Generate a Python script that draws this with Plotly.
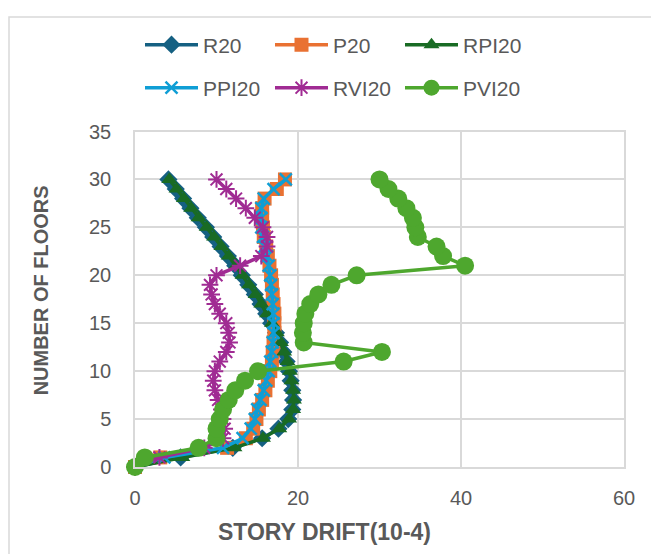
import plotly.graph_objects as go

floors = list(range(0, 31))

R20 = [0, 5.6, 12.0, 15.6, 17.6, 18.8, 19.3, 19.4, 19.3, 19.1, 18.9, 18.6, 18.2, 17.8, 17.3, 16.7,
       16.1, 15.4, 14.7, 13.9, 13.1, 12.3, 11.4, 10.5, 9.6, 8.7, 7.7, 6.8, 5.9, 5.0, 4.1]
P20 = [0, 3.1, 11.3, 13.6, 14.5, 14.9, 15.2, 15.6, 16.0, 16.3, 16.6, 16.8, 16.9, 17.0, 17.1, 17.1,
       17.1, 17.0, 16.9, 16.8, 16.7, 16.5, 16.3, 16.1, 15.8, 15.7, 15.6, 15.6, 15.9, 17.4, 18.4]
RPI20 = [0, 5.8, 12.2, 15.7, 17.7, 18.9, 19.4, 19.5, 19.4, 19.2, 19.0, 18.7, 18.3, 17.9, 17.4, 16.8,
         16.2, 15.5, 14.8, 14.0, 13.2, 12.4, 11.5, 10.6, 9.7, 8.8, 7.8, 6.9, 6.0, 5.1, 4.2]
PPI20 = [0, 3.6, 10.8, 13.2, 14.2, 14.7, 15.0, 15.4, 15.8, 16.1, 16.4, 16.6, 16.8, 16.9, 17.0, 17.0,
         17.0, 16.9, 16.8, 16.7, 16.6, 16.4, 16.2, 15.9, 15.7, 15.5, 15.5, 15.5, 15.8, 17.0, 18.5]
RVI20 = [0, 3.0, 8.5, 10.8, 11.0, 10.8, 10.6, 10.2, 9.8, 9.6, 9.8, 10.4, 11.2, 11.6, 11.5, 11.2,
         10.4, 9.8, 9.4, 9.2, 10.0, 12.9, 15.5, 16.2, 16.2, 15.7, 14.7, 13.6, 12.4, 11.2, 10.0]
PVI20 = [0, 1.2, 7.8, 10.0, 10.0, 10.4, 10.8, 11.5, 12.3, 13.5, 15.1, 25.6, 30.3, 20.7, 20.6, 20.7,
         20.9, 21.5, 22.5, 24.1, 27.2, 40.5, 37.8, 37.0, 34.7, 34.4, 34.1, 33.3, 32.3, 31.1, 30.0]

x_ticks = [0, 20, 40, 60]
y_ticks = [0, 5, 10, 15, 20, 25, 30, 35]

GRID = "#d9d9d9"
TXT = "#595959"
FONT = "Liberation Sans"

series = [
    ("R20", R20, "#156082", dict(symbol="diamond", size=14), "legend"),
    ("P20", P20, "#E97132", dict(symbol="square", size=14), "legend"),
    ("RPI20", RPI20, "#196B24", dict(symbol="triangle-up", size=14), "legend"),
    ("PPI20", PPI20, "#0F9ED5", dict(symbol="x-thin", size=12, line=dict(width=2.5, color="#0F9ED5")), "legend2"),
    ("RVI20", RVI20, "#A02B93", dict(symbol="asterisk", size=14, line=dict(width=2, color="#A02B93")), "legend2"),
    ("PVI20", PVI20, "#4EA72E", dict(symbol="circle", size=18), "legend2"),
]

fig = go.Figure()
for name, vals, color, mk, lg in series:
    marker = dict(color=color)
    marker.update(mk)
    fig.add_trace(go.Scatter(
        x=vals, y=floors, name=name, mode="lines+markers",
        line=dict(color=color, width=3.5), marker=marker,
        cliponaxis=False, legend=lg,
    ))

W, H = 651, 554
L, R, T, B = 135, 27, 127, 87
pw, ph = W - L - R, H - T - B

def px_to_paper_x(px):
    return (px - L) / pw

def px_to_paper_y(py):
    return (H - B - py) / ph

legend_common = dict(
    orientation="h", xref="container", yref="container", xanchor="left", yanchor="middle",
    font=dict(family=FONT, size=21, color=TXT), itemwidth=53, entrywidth=62,
    bgcolor="rgba(0,0,0,0)", tracegroupgap=0, itemclick=False,
)

fig.update_layout(
    width=W, height=H,
    margin=dict(l=L, r=R, t=T, b=B),
    paper_bgcolor="white", plot_bgcolor="white",
    font=dict(family=FONT, color=TXT),
    legend=dict(legend_common, x=140 / W, y=1 - 45 / H),
    legend2=dict(legend_common, x=140 / W, y=1 - 88 / H),
    xaxis=dict(range=[0, 60], tickvals=x_ticks, showgrid=True, gridcolor=GRID, gridwidth=1.5,
               zeroline=False, showline=True, linecolor=GRID, linewidth=1.5, mirror=True,
               tickfont=dict(family=FONT, size=20, color=TXT), ticks="", ticklabelstandoff=12),
    yaxis=dict(range=[0, 35], tickvals=y_ticks, showgrid=True, gridcolor=GRID, gridwidth=1.5,
               zeroline=False, showline=True, linecolor=GRID, linewidth=1.5, mirror=True,
               tickfont=dict(family=FONT, size=20, color=TXT), ticks="", ticklabelstandoff=18),
    annotations=[
        dict(text="<b>STORY DRIFT(10-4)</b>", xref="paper", yref="paper",
             x=px_to_paper_x(324), y=px_to_paper_y(533), showarrow=False,
             xanchor="center", yanchor="middle", font=dict(family=FONT, size=23, color=TXT)),
        dict(text="<b>NUMBER OF FLOORS</b>", xref="paper", yref="paper",
             x=px_to_paper_x(41), y=px_to_paper_y(288), showarrow=False, textangle=-90,
             xanchor="center", yanchor="middle", font=dict(family=FONT, size=20, color=TXT)),
    ],
    shapes=[
        dict(type="rect", xref="paper", yref="paper",
             x0=px_to_paper_x(9), x1=px_to_paper_x(700),
             y0=px_to_paper_y(700), y1=px_to_paper_y(11),
             line=dict(color=GRID, width=1.5), layer="below"),
    ],
)

fig.write_html("out.html")
